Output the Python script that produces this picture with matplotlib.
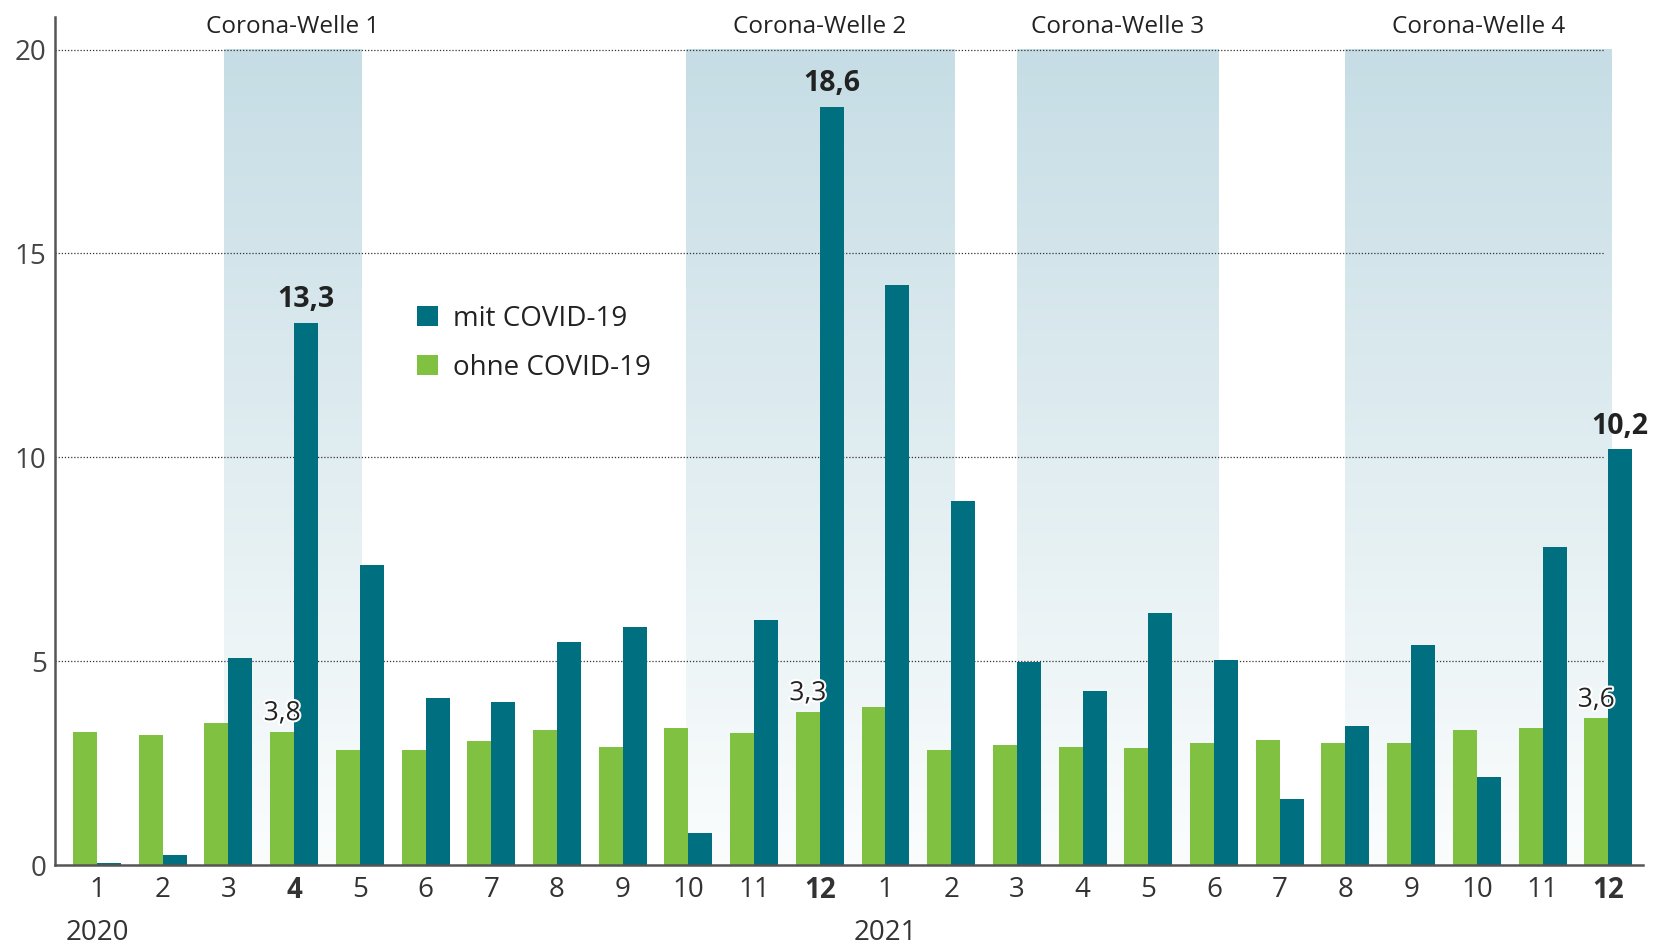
import numpy as np
import matplotlib
matplotlib.use("Agg")
import matplotlib.pyplot as plt
import matplotlib.patheffects as pe
from matplotlib.colors import LinearSegmentedColormap

plt.rcParams["font.family"] = ["Open Sans", "DejaVu Sans"]

# Monate Jan 2020 – Dez 2021
months = ["1", "2", "3", "4", "5", "6", "7", "8", "9", "10", "11", "12",
          "1", "2", "3", "4", "5", "6", "7", "8", "9", "10", "11", "12"]
bold_months = [3, 11, 23]
years = ["2020", "2021"]
year_pos = [0, 12]

mit_covid = [0.05, 0.24, 5.07, 13.3, 7.35, 4.1, 4.0, 5.46, 5.83, 0.78, 6.01, 18.6,
             14.22, 8.94, 4.97, 4.26, 6.17, 5.02, 1.62, 3.4, 5.39, 2.17, 7.79, 10.2]
ohne_covid = [3.27, 3.2, 3.48, 3.27, 2.82, 2.82, 3.03, 3.32, 2.9, 3.35, 3.24, 3.76,
              3.87, 2.82, 2.95, 2.9, 2.88, 3.0, 3.06, 3.0, 3.0, 3.32, 3.35, 3.6]

# Wellen (Start/Ende als Monatsindex)
wellen = ["Corona-Welle 1", "Corona-Welle 2", "Corona-Welle 3", "Corona-Welle 4"]
wellen_start = [1.93, 8.96, 14.0, 19.0]
wellen_ende = [4.02, 13.04, 17.06, 23.05]

# Beschriftungen
mit_lbl_idx = [3, 11, 23]
mit_lbl_txt = ["13,3", "18,6", "10,2"]
ohne_lbl_idx = [3, 11, 23]
ohne_lbl_txt = ["3,8", "3,3", "3,6"]

BLUE = "#006f80"
GREEN = "#80c142"
GREY = "#555555"
TXT = "#222222"

fig = plt.figure(figsize=(16.62, 9.46), dpi=100)
ax = fig.add_axes([0.0331, 0.0856, 0.9555, 0.8964])

x = np.arange(len(months))
w = 0.365

# Hintergrund-Verlauf der Wellen
grad = LinearSegmentedColormap.from_list("welle", ["#fbfdfd", "#c6dde5"])
g = np.linspace(0, 1, 256).reshape(-1, 1)
for s, e, name in zip(wellen_start, wellen_ende, wellen):
    ax.imshow(g, extent=(s, e, 0, 20), origin="lower", cmap=grad,
              aspect="auto", zorder=0)
    ax.text((s + e) / 2, 20.55, name, ha="center", va="center",
            fontsize=17.5, color=TXT, clip_on=False)

# Gitterlinien
ax.hlines([5, 10, 15, 20], -0.64, 22.93, colors="#333333",
          linestyles=(0, (1, 1.5)), linewidth=0.9, zorder=1)

b_ohne = ax.bar(x - w / 2, ohne_covid, w, color=GREEN, zorder=2,
                label="ohne COVID-19")
b_mit = ax.bar(x + w / 2, mit_covid, w, color=BLUE, zorder=2,
               label="mit COVID-19")

for i, t in zip(mit_lbl_idx, mit_lbl_txt):
    ax.annotate(t, (x[i] + w / 2, mit_covid[i]), xytext=(0, 6),
                textcoords="offset points", ha="center", va="bottom",
                fontsize=20.5, fontweight="bold", color=TXT, zorder=4)
for i, t in zip(ohne_lbl_idx, ohne_lbl_txt):
    ax.annotate(t, (x[i] - w / 2, ohne_covid[i]), xytext=(0, 4),
                textcoords="offset points", ha="center", va="bottom",
                fontsize=19, color=TXT, zorder=4,
                path_effects=[pe.withStroke(linewidth=3, foreground="white")])

ax.set_xlim(-0.64, 23.53)
ax.set_ylim(0, 20.8)
ax.set_yticks([0, 5, 10, 15, 20])
ax.set_xticks(x)
ax.set_xticklabels(months)
for i, lbl in enumerate(ax.get_xticklabels()):
    if i in bold_months:
        lbl.set_fontweight("bold")
ax.tick_params(axis="both", length=0, labelsize=20, colors="#333333")
ax.tick_params(axis="x", pad=8)
ax.tick_params(axis="y", pad=6, labelcolor="#444444")

for yl, xp in zip(years, year_pos):
    ax.text(xp, -0.08, yl, transform=ax.get_xaxis_transform(),
            ha="center", va="center", fontsize=20, color="#333333")

for s in ["top", "right"]:
    ax.spines[s].set_visible(False)
for s in ["left", "bottom"]:
    ax.spines[s].set_color(GREY)
    ax.spines[s].set_linewidth(1.8)

ax.legend(handles=[b_mit, b_ohne], loc="upper left",
          bbox_to_anchor=(0.212, 0.69), frameon=False, fontsize=20,
          handlelength=0.75, handleheight=0.75, handletextpad=0.55,
          labelspacing=0.75, labelcolor=TXT)

fig.savefig("out.png", dpi=100)
